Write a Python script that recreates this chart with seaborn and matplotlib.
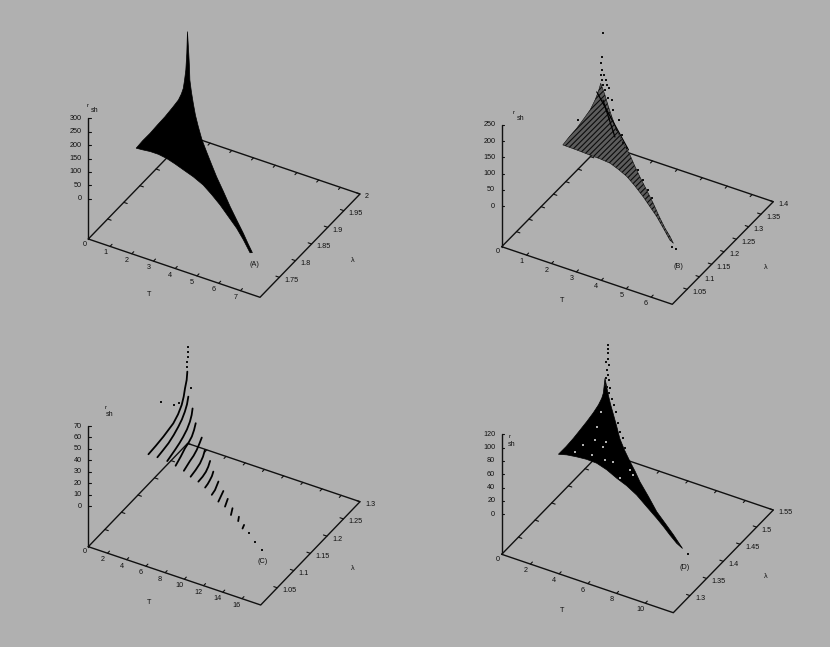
import numpy as np
import pandas as pd
import seaborn as sns
import matplotlib
matplotlib.use('Agg')
import matplotlib.pyplot as plt

BG = '#b0b0b0'
INK = '#101010'
FS = 5.2

# sheet outlines: T, lambda, r_sh
a_T = [0.08] * 14 + [0.16,0.25,0.35,0.6,1.07,1.56,2.11,2.68,3.26,3.87,4.6,5.34,6.01,6.66,7.12,7.49,7.41,6.75,6.13,5.45,4.77,4.13,3.52,2.9,2.33,1.84,1.36,0.94,0.56,0.24]
a_lam = [1.833,1.853,1.876,1.899,1.922,1.946,1.964,1.973,1.979,1.983,1.987,1.99,1.992,1.996,1.993,1.988,1.986,1.975,1.95,1.926,1.9,1.876,1.852,1.827,1.799,1.77,1.745,1.722,1.706,1.694,1.692,1.716,1.737,1.757,1.777,1.794,1.809,1.82,1.828,1.835,1.841,1.844,1.844,1.842]
a_r = [12.9,15.8,14.9,17.7,19.2,24.5,30.0,40.9,54.3,80.3,113.7,172.1,250.3,164.3,114.6,79.1,40.9] + [18] * 10 + [14.4,7.2] + [0] * 15

b_T = [0.07] * 8 + [0.13,0.32,0.78,1.24,1.65,2.08,2.5,2.97,3.44,4.04,4.63,5.21,5.7,6.04,6.28,6.08,5.53,4.99,4.49,3.99,3.42,2.9,2.43,2.0,1.57,1.15,0.6]
b_lam = [1.231,1.258,1.287,1.314,1.342,1.362,1.375,1.385,1.396,1.39,1.358,1.327,1.303,1.28,1.258,1.23,1.203,1.17,1.137,1.103,1.077,1.063,1.052,1.058,1.087,1.115,1.138,1.161,1.185,1.205,1.218,1.228,1.231,1.232,1.234]
b_r = [4.2,9.1,11.8,18.7,26.6,41.8,57.0,75.4,32.5,8.1,12.0] + [15] * 9 + [12,6] + [0] * 13
b_ridge_T = [0.01,2.3,0.2,1.51]
b_ridge_lam = [1.375,1.272,1.381,1.297]
b_ridge_r = [55,15,30,15]
b_ridge_id = [0,0,1,1]
b_dot_T = [0.14,0.14,0.14,0.14,0.14,0.18,0.14,0.25,0.14,0.3,0.21,0.38,0.34,0.47,0.59,1.04,1.28,1.58,1.87,2.13,0.14,3.12,3.56,4.02,4.37,6.4,6.59]
b_dot_lam = [1.386,1.382,1.379,1.384,1.378,1.389,1.382,1.389,1.386,1.389,1.389,1.389,1.389,1.389,1.384,1.359,1.327,1.317,1.294,1.282,1.287,1.229,1.204,1.179,1.158,1.033,1.03]
b_dot_r = [233.0,162.1,143.6,118.9,108.7,101.1,90.1,87.4,71.5,73.3,55.5,65.1,33.2,31.6,7.5,7.5,7.5,7.5,7.5,7.5,39.8,7.5,7.5,7.5,7.5,7.5,7.5]

c_T = [0.42,0.42,0.42,0.42,0.42,0.42,0.68,0.79,0.9,1.0,1.06,0.42,0.42,0.71,1.06,1.32,1.59,1.8,1.91,1.99,1.07,1.49,1.86,2.21,2.47,2.66,2.82,3.05,2.43,2.81,3.13,3.34,3.48,3.77,4.06,3.99,4.28,4.53,4.72,4.83,5.09,5.18,5.53,5.8,5.96,6.07,6.41,6.7,6.9,7.01,7.05,7.47,7.7,7.84,7.96,8.03,8.62,8.99,9.1,9.72,10.01,10.13,10.66,11.03,11.74,12.13,12.89,13.16,13.91,14.06]
c_lam = [1.287,1.285,1.28,1.276,1.27,1.259,1.237,1.219,1.201,1.175,1.151,1.29,1.286,1.271,1.252,1.234,1.212,1.19,1.169,1.151,1.284,1.269,1.253,1.234,1.215,1.198,1.18,1.15,1.254,1.238,1.222,1.206,1.191,1.17,1.146,1.227,1.211,1.196,1.181,1.167,1.141,1.202,1.186,1.169,1.151,1.133,1.182,1.168,1.155,1.142,1.128,1.161,1.15,1.14,1.13,1.12,1.143,1.122,1.109,1.126,1.107,1.099,1.112,1.093,1.095,1.079,1.081,1.071,1.067,1.058]
c_r = [32.3,25.6,19.8,13.7,8.3,3.4,2.8,2.8,2.8,2.8,2.8,9.5,4.0] + [2.8] * 57
c_stroke = [0]*11 + [1]*9 + [2]*8 + [3]*7 + [4]*6 + [5]*5 + [6]*5 + [7]*5 + [8]*3 + [9]*3 + [10]*2 + [11]*2 + [12]*2 + [13]*2
c_dot_T = [0.36,0.36,0.36,0.36,0.36,0.36,0.36,0.36,0.64,14.87,16.02,17.13]
c_dot_lam = [1.291,1.291,1.29,1.289,1.288,1.209,1.248,1.265,1.292,1.054,1.039,1.027]
c_dot_r = [52.8,48.5,44.4,40.3,36.3,29.3,14.5,11.1,17.5,2.1,2.1,2.1]

d_T = [0.12] * 8 + [0.18,0.3,0.53,0.79,1.08,1.79,2.56,3.4,4.27,5.05,5.82,7.02,8.22,9.2,10.13,11.2,10.63,9.86,9.08,8.31,7.19,6.08,5.08,4.18,3.23,2.37,1.64,0.99,0.38]
d_lam = [1.415,1.438,1.46,1.48,1.5,1.52,1.535,1.545,1.547,1.547,1.547,1.543,1.539,1.518,1.494,1.472,1.451,1.433,1.414,1.388,1.361,1.344,1.329,1.31,1.317,1.33,1.344,1.357,1.375,1.393,1.406,1.415,1.426,1.433,1.434,1.432,1.429]
d_r = [6.2,5.9,7.1,9.3,11.6,14.8,18.6,23.5,30.3,53.6,30.3,19.4,8.6] + [7.2] * 8 + [5.8,2.9] + [0] * 14
d_dot_T = [0.61,0.61,0.61,0.65,0.49,0.7,0.54,0.63,0.47,0.68,0.42,0.58,0.77,0.72,0.89,1.05,1.19,1.59,2.1,2.58,3.21,11.89,10.84]
d_dot_lam = [1.542] * 17 + [1.531,1.514,1.502,1.482,1.296,1.313]
d_dot_r = [108.6,102.6,96.1,87.9,82.7,79.3,70.6,63.8,57.6,56.6,47.2,45.9,44.8,36.9,29.1,21.8,12.9,3.6,3.6,3.6,3.6,3.6,3.6]
d_gap_T = [0.24,0.63,0.86,1.91,3.28,2.76,1.81,0.77,4.58,4.48,5.01,1.99,1.22]
d_gap_lam = [1.539,1.508,1.458,1.482,1.444,1.441,1.442,1.437,1.438,1.412,1.429,1.469,1.477]
d_gap_r = [7.1] + [3.6] * 12

# tick labels
a_T_ticks = [1,2,3,4,5,6,7]
a_lam_ticks = ['1.75','1.8','1.85','1.9','1.95','2']
a_r_ticks = [0,50,100,150,200,250,300]
b_T_ticks = [1,2,3,4,5,6]
b_lam_ticks = ['1.05','1.1','1.15','1.2','1.25','1.3','1.35','1.4']
b_r_ticks = [0,50,100,150,200,250]
c_T_ticks = [2,4,6,8,10,12,14,16]
c_lam_ticks = ['1.05','1.1','1.15','1.2','1.25','1.3']
c_r_ticks = [0,10,20,30,40,50,60,70]
d_T_ticks = [2,4,6,8,10]
d_lam_ticks = ['1.3','1.35','1.4','1.45','1.5','1.55']
d_r_ticks = [0,20,40,60,80,100,120]

sns.set_style('white')
plt.rcParams['font.family'] = ['Liberation Sans', 'DejaVu Sans']
plt.rcParams['hatch.linewidth'] = 0.8

fig = plt.figure(figsize=(8.3, 6.47), dpi=100, facecolor=BG)
ax = fig.add_axes([0, 0, 1, 1])
ax.set_xlim(0, 830)
ax.set_ylim(647, 0)
ax.axis('off')


def make_proj(O, F, R, z0, z_per, T_max, lam_lim):
    O, F, R = np.array(O), np.array(F), np.array(R)

    def proj(T, lam, r=None):
        t = np.asarray(T, float) / T_max
        l = (np.asarray(lam, float) - lam_lim[0]) / (lam_lim[1] - lam_lim[0])
        x = O[0] + (F - O)[0] * t + (R - F)[0] * l
        y = O[1] + (F - O)[1] * t + (R - F)[1] * l
        if r is not None:
            y = y + (z0 - O[1]) - z_per * np.asarray(r, float)
        return x, y
    return proj


def seg(x, y, lw=1.0):
    sns.lineplot(x=x, y=y, ax=ax, color=INK, lw=lw, estimator=None, sort=False, legend=False, zorder=2)


def frame(proj, O, z0, z_per, T_max, lam_lim, T_ticks, lam_ticks, r_ticks):
    lo, hi = lam_lim
    xs, ys = proj([0, T_max, T_max, 0, 0], [lo, lo, hi, hi, lo])
    seg(np.array(xs), np.array(ys))
    # z axis
    top = z0 - z_per * r_ticks[-1]
    seg(np.array([O[0], O[0]]), np.array([O[1], top]))
    for r in r_ticks:
        y = z0 - z_per * r
        seg(np.array([O[0], O[0] + 2.5]), np.array([y, y]), lw=0.8)
        ax.text(O[0] - 6.5, y, str(r), ha='right', va='center', fontsize=FS, color=INK)
    for T in T_ticks:
        for l0, l1 in ((lo, lo + 0.02 * (hi - lo)), (hi, hi - 0.02 * (hi - lo))):
            x, y = proj([T, T], [l0, l1])
            seg(x, y, lw=0.8)
        x, y = proj(T, lo)
        ax.text(x - 5, y + 6.5, str(T), ha='center', va='center', fontsize=FS, color=INK)
    for lab in lam_ticks:
        v = float(lab)
        for t0, t1 in ((T_max, T_max * 0.98), (0, T_max * 0.02)):
            x, y = proj([t0, t1], [v, v])
            seg(x, y, lw=0.8)
        x, y = proj(T_max, v)
        ax.text(x + 5, y + 3, lab, ha='left', va='center', fontsize=FS, color=INK)
    x, y = proj(0, lo)
    ax.text(x - 4, y + 5, '0', ha='center', va='center', fontsize=FS, color=INK)


def words(T_xy, lam_xy, tag, tag_xy, r_xy, sh_xy):
    ax.text(*T_xy, 'T', ha='center', va='center', fontsize=FS, color=INK)
    ax.text(*lam_xy, 'λ', ha='center', va='center', fontsize=FS, color=INK)
    ax.text(*tag_xy, tag, ha='center', va='center', fontsize=FS, color=INK)
    ax.text(*r_xy, 'r', ha='center', va='center', fontsize=4.5, color=INK)
    ax.text(*sh_xy, 'sh', ha='center', va='center', fontsize=FS, color=INK)


def dots(x, y, color=INK, size=3.0):
    sns.scatterplot(x=x, y=y, ax=ax, color=color, s=size, marker='s', linewidth=0, legend=False, zorder=4)


# panel A
geo = dict(O=(88.3, 239), F=(260, 297.3), R=(360, 194), z0=198.7, z_per=80.4 / 300, T_max=7.9, lam_lim=(1.69, 2.0))
pa = make_proj(**geo)
frame(pa, geo['O'], geo['z0'], geo['z_per'], geo['T_max'], geo['lam_lim'], a_T_ticks, a_lam_ticks, a_r_ticks)
ax.fill(*pa(a_T, a_lam, a_r), facecolor='black', edgecolor='black', lw=0.5, zorder=3)
words((149, 294), (352.7, 260.7), '(A)', (254, 264), (87.5, 105.5), (95, 110))

# panel B
geo = dict(O=(501.7, 246.7), F=(672.3, 304.3), R=(773.3, 201.7), z0=206, z_per=81 / 250, T_max=6.85, lam_lim=(0.99, 1.4))
pb = make_proj(**geo)
frame(pb, geo['O'], geo['z0'], geo['z_per'], geo['T_max'], geo['lam_lim'], b_T_ticks, b_lam_ticks, b_r_ticks)
ax.fill(*pb(b_T, b_lam, b_r), facecolor='#5c5c5c', edgecolor='#0c0c0c', hatch='//////', lw=0.4, zorder=3)
rx, ry = pb(b_ridge_T, b_ridge_lam, b_ridge_r)
sns.lineplot(x=rx, y=ry, units=b_ridge_id, estimator=None, sort=False, color='black', lw=0.9, ax=ax, legend=False, zorder=4)
dots(*pb(b_dot_T, b_dot_lam, b_dot_r))
words((562.3, 301), (765.3, 267.3), '(B)', (678.3, 266.7), (513.5, 113), (520.5, 118))

# panel C
geo = dict(O=(88.3, 546.7), F=(260.7, 605), R=(360, 501.7), z0=506, z_per=80 / 70, T_max=17.95, lam_lim=(1.0, 1.3))
pc = make_proj(**geo)
frame(pc, geo['O'], geo['z0'], geo['z_per'], geo['T_max'], geo['lam_lim'], c_T_ticks, c_lam_ticks, c_r_ticks)
cx, cy = pc(c_T, c_lam, c_r)
strokes = pd.DataFrame({'x': cx, 'y': cy, 'stroke': c_stroke})
sns.lineplot(data=strokes, x='x', y='y', units='stroke', estimator=None, sort=False, color='black', lw=1.3, ax=ax, legend=False, zorder=3)
dots(*pc(c_dot_T, c_dot_lam, c_dot_r))
words((149, 602.7), (352.7, 569), '(C)', (262.7, 561.7), (106, 407.5), (110, 415))

# panel D
geo = dict(O=(501.7, 554.3), F=(673.3, 612.7), R=(773.3, 510), z0=514.3, z_per=80 / 120, T_max=11.95, lam_lim=(1.25, 1.55))
pd_ = make_proj(**geo)
frame(pd_, geo['O'], geo['z0'], geo['z_per'], geo['T_max'], geo['lam_lim'], d_T_ticks, d_lam_ticks, d_r_ticks)
ax.fill(*pd_(d_T, d_lam, d_r), facecolor='black', edgecolor='black', lw=0.5, zorder=3)
dots(*pd_(d_dot_T, d_dot_lam, d_dot_r))
dots(*pd_(d_gap_T, d_gap_lam, d_gap_r), color=BG, size=2.0)
words((562.3, 610), (765.3, 576.7), '(D)', (684.7, 567.3), (509.3, 436.7), (511.7, 444.3))

fig.savefig('out.png', dpi=100, facecolor=BG)
